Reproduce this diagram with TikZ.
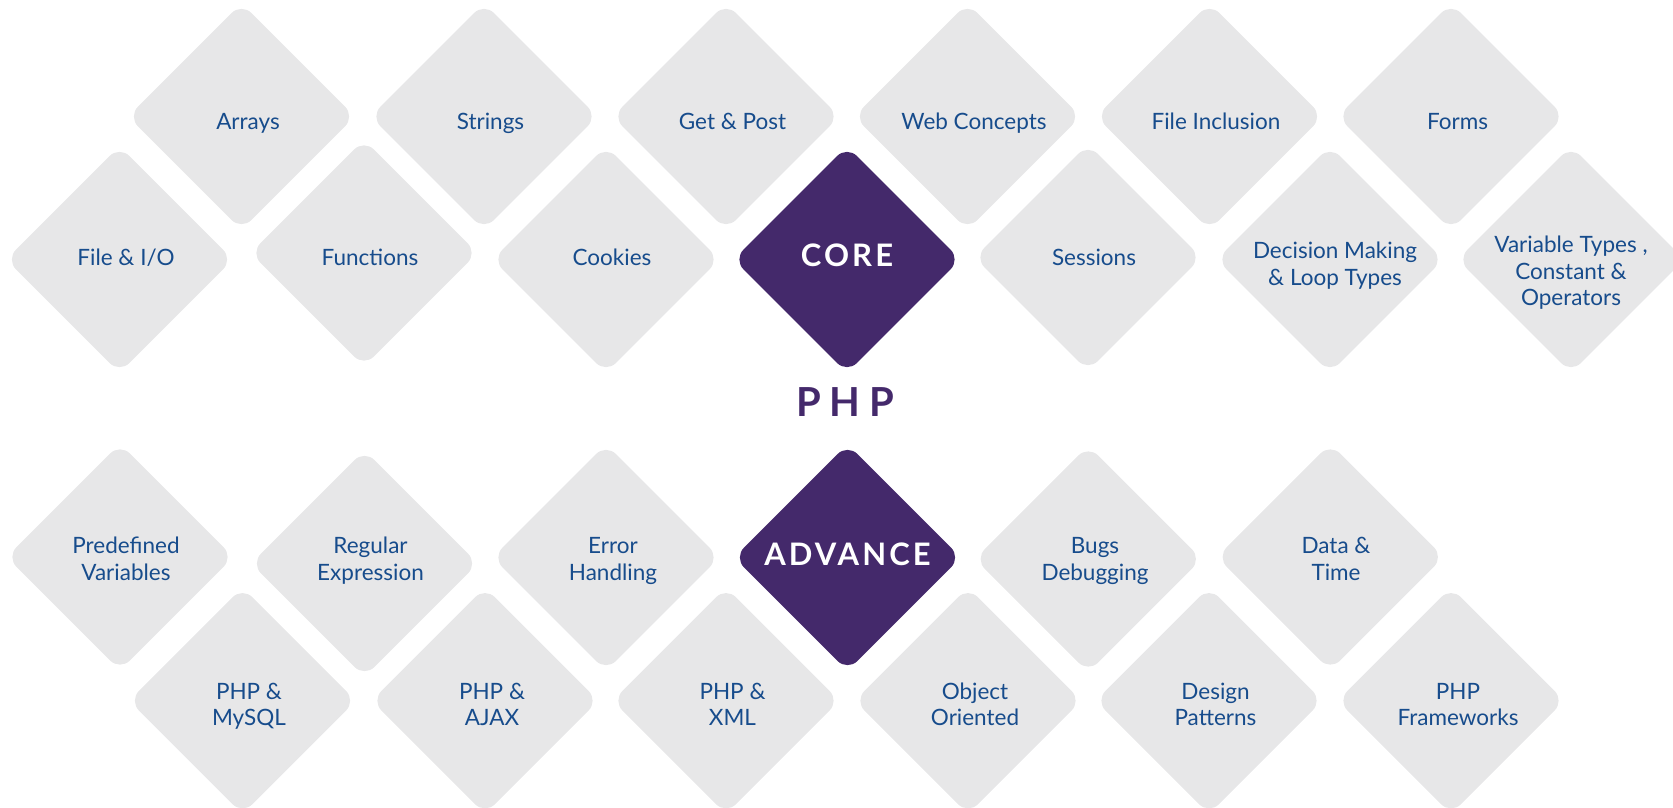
\documentclass[tikz,border=0pt]{standalone}
\usepackage{fontspec}
\setmainfont{Lato}
\newfontfamily\hubfont[LetterSpace=10]{Lato}
\newfontfamily\titlefont[LetterSpace=22]{Lato}
\usetikzlibrary{shapes.geometric}

\definecolor{tilegray}{HTML}{E7E7E8}
\definecolor{topicblue}{HTML}{174C8C}
\definecolor{phppurple}{HTML}{44296B}

\begin{document}
\begin{tikzpicture}[
    x=1pt, y=-1pt,
    tile/.style = {diamond, aspect=1, minimum size=227pt, inner sep=0pt, rounded corners=14pt, fill=#1},
    tile/.default = tilegray,
    topic/.style = {anchor=base, text=topicblue, align=center, font=\fontsize{22.5}{26.7}\selectfont},
    hub/.style = {anchor=base, text=white, font=\hubfont\bfseries\fontsize{31}{36}\selectfont}
  ]
  \useasboundingbox (0,0) rectangle (1673,807);

  % core tiles
  \node[tile] (Arrays) at (241.5,116.5) {};
  \node[tile] (Strings) at (484,116.5) {};
  \node[tile] (GetPost) at (726,116.5) {};
  \node[tile] (WebConcepts) at (967.5,116.5) {};
  \node[tile] (FileInclusion) at (1209.5,116.5) {};
  \node[tile] (Forms) at (1451,116.5) {};

  \node[tile] (FileIO) at (119.5,259.5) {};
  \node[tile] (Functions) at (364,253) {};
  \node[tile] (Cookies) at (606,259.5) {};
  \node[tile=phppurple] (Core) at (847,259.5) {};
  \node[tile] (Sessions) at (1088,257.5) {};
  \node[tile] (Decision) at (1330,259.5) {};
  \node[tile] (VarTypes) at (1571,259.5) {};

  % advance tiles
  \node[tile] (Predefined) at (120,557) {};
  \node[tile] (RegEx) at (364.5,563.5) {};
  \node[tile] (Errors) at (606,557.5) {};
  \node[tile=phppurple] (Advance) at (847.5,557.5) {};
  \node[tile] (Bugs) at (1088.3,559) {};
  \node[tile] (DateTime) at (1330.3,557) {};

  \node[tile] (MySQL) at (242.5,700.7) {};
  \node[tile] (Ajax) at (485,700.7) {};
  \node[tile] (XML) at (726,700.7) {};
  \node[tile] (OOP) at (968,700.7) {};
  \node[tile] (Patterns) at (1209,700.7) {};
  \node[tile] (Frameworks) at (1451,700.7) {};

  % labels, set on the baseline of their last line
  \node[topic] (ArraysText) at (248,129) {Arrays};
  \node[topic] (StringsText) at (490.5,129) {Strings};
  \node[topic] (GetPostText) at (732.5,129) {Get \& Post};
  \node[topic] (WebConceptsText) at (974,129) {Web Concepts};
  \node[topic] (FileInclusionText) at (1216,129) {File Inclusion};
  \node[topic] (FormsText) at (1457.5,129) {Forms};

  \node[topic] (FileIOText) at (126,265.7) {File \& I/O};
  \node[topic] (FunctionsText) at (370,265.7) {Functions};
  \node[topic] (CookiesText) at (612,265.7) {Cookies};
  \node[hub] (CoreText) at (847,266.7) {CORE};
  \node[topic] (SessionsText) at (1094,265.7) {Sessions};
  \node[topic] (DecisionText) at (1335,285) {Decision Making\\ \& Loop Types};
  \node[topic] (VarTypesText) at (1571,305.7) {Variable Types ,\\ Constant \&\\ Operators};

  \node[anchor=base, text=phppurple, font=\titlefont\bfseries\fontsize{40}{48}\selectfont] (PHP) at (845,416) {PHP};

  \node[topic] (PredefinedText) at (126,580) {Predefined\\ Variables};
  \node[topic] (RegExText) at (370.5,580) {Regular\\ Expression};
  \node[topic] (ErrorsText) at (613,580) {Error\\ Handling};
  \node[hub] (AdvanceText) at (847.5,565) {ADVANCE};
  \node[topic] (BugsText) at (1095,580) {Bugs\\ Debugging};
  \node[topic] (DateTimeText) at (1336,580) {Data \&\\ Time};

  \node[topic] (MySQLText) at (249,725.7) {PHP \&\\ MySQL};
  \node[topic] (AjaxText) at (492,725.7) {PHP \&\\ AJAX};
  \node[topic] (XMLText) at (732.5,725.7) {PHP \&\\ XML};
  \node[topic] (OOPText) at (975,725.7) {Object\\ Oriented};
  \node[topic] (PatternsText) at (1215.5,725.7) {Design\\ Patterns};
  \node[topic] (FrameworksText) at (1458,725.7) {PHP\\ Frameworks};

\end{tikzpicture}
\end{document}
